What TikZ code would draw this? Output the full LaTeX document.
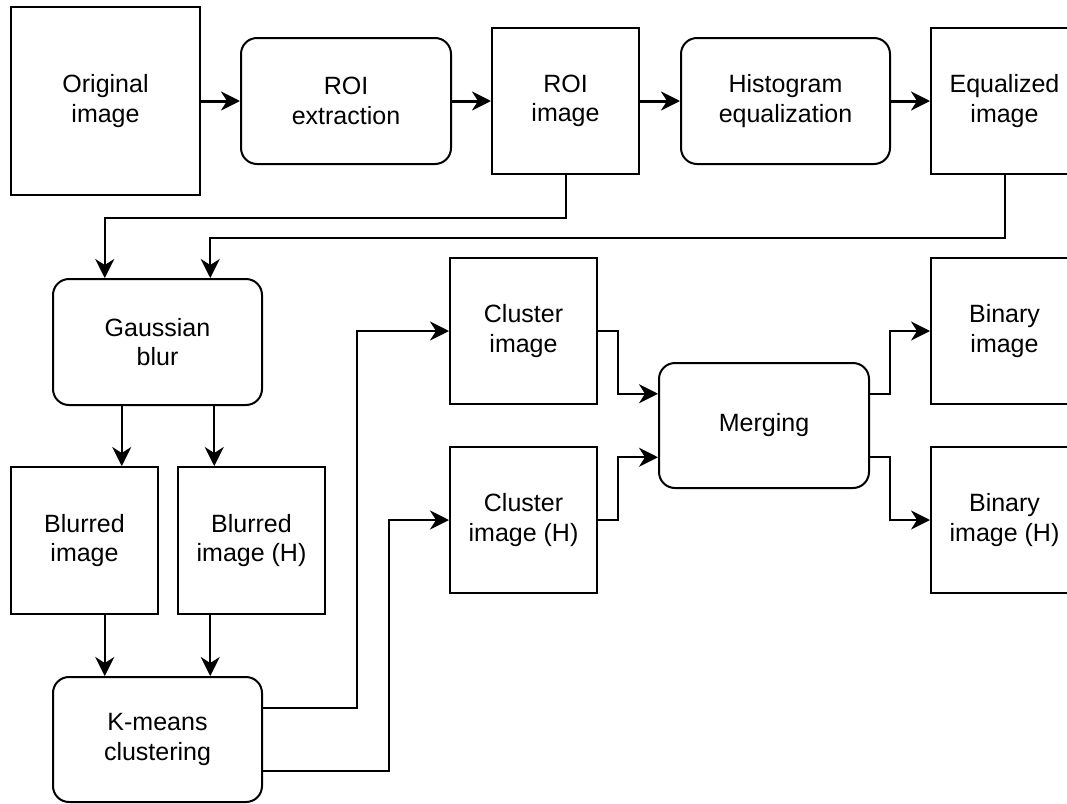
\documentclass[tikz,border=0pt]{standalone}
\usepackage{fontspec}
\setmainfont{Liberation Sans}
\usepackage{tikz}
\usetikzlibrary{arrows.meta,calc}

\tikzset{
  imgbox/.style={draw, line width=2pt, minimum width=147pt, minimum height=146pt,
    align=center, inner sep=0pt, font=\fontsize{25}{29.5}\selectfont},
  procbox/.style={imgbox, rounded corners=16pt, minimum width=209pt, minimum height=126pt},
  arr/.style={-{Stealth[length=19pt,width=19pt,inset=6pt]}, line width=2pt},
  thickarr/.style={arr, line width=3pt}
}

\begin{document}
\begin{tikzpicture}[x=1pt,y=-1pt]
  \useasboundingbox (0,0) rectangle (1067,803);
  % top row
  \node at (105.5,101) [imgbox, minimum width=189pt, minimum height=188pt] (orig) {Original\\image};
  \node at (346,101) [procbox, minimum width=210pt] (roiext) {ROI\\extraction};
  \node at (565.5,101) [imgbox] (roiimg) {ROI\\image};
  \node at (785.5,101) [procbox] (histeq) {Histogram\\equalization};
  \node at (1004.5,101) [imgbox] (eqimg) {Equalized\\image};
  % left column
  \node at (157.5,342) [procbox] (gauss) {Gaussian\\blur};
  \node at (84.5,540.5) [imgbox, minimum height=147pt] (blur) {Blurred\\image};
  \node at (251.5,540.5) [imgbox, minimum height=147pt] (blurh) {Blurred\\image (H)};
  \node at (157.5,739.5) [procbox, minimum height=125pt] (kmeans) {K-means\\clustering};
  % right part
  \node at (523.5,331) [imgbox] (clus) {Cluster\\image};
  \node at (523.5,520) [imgbox] (clush) {Cluster\\image (H)};
  \node at (764,425.5) [procbox, minimum width=210pt, minimum height=125pt] (merge) {Merging};
  \node at (1004.5,331) [imgbox] (bin) {Binary\\image};
  \node at (1004.5,520) [imgbox] (binh) {Binary\\image (H)};

  \draw[thickarr] (orig.east) -- (roiext.west);
  \draw[thickarr] (roiext.east) -- (roiimg.west);
  \draw[thickarr] (roiimg.east) -- (histeq.west);
  \draw[thickarr] (histeq.east) -- (eqimg.west);

  \coordinate (g1) at ($(gauss.north west)!0.25!(gauss.north east)$);
  \coordinate (g2) at ($(gauss.north west)!0.75!(gauss.north east)$);
  \draw[arr] (roiimg.south) -- ++(0,43) -| (g1);
  \draw[arr] (eqimg.south) -- ++(0,63) -| (g2);

  \coordinate (b1) at ($(blur.north west)!0.75!(blur.north east)$);
  \coordinate (b2) at ($(blurh.north west)!0.25!(blurh.north east)$);
  \draw[arr] (gauss.south -| b1) -- (b1);
  \draw[arr] (gauss.south -| b2) -- (b2);

  \coordinate (k1) at ($(kmeans.north west)!0.25!(kmeans.north east)$);
  \coordinate (k2) at ($(kmeans.north west)!0.75!(kmeans.north east)$);
  \draw[arr] (blur.south -| k1) -- (k1);
  \draw[arr] (blurh.south -| k2) -- (k2);

  \draw[arr] ($(kmeans.north east)!0.25!(kmeans.south east)$) -- ++(94,0) |- (clus.west);
  \draw[arr] ($(kmeans.north east)!0.75!(kmeans.south east)$) -- ++(126,0) |- (clush.west);

  \draw[arr] (clus.east) -- ++(20,0) |- ($(merge.north west)!0.25!(merge.south west)$);
  \draw[arr] (clush.east) -- ++(20,0) |- ($(merge.north west)!0.75!(merge.south west)$);

  \draw[arr] ($(merge.north east)!0.25!(merge.south east)$) -- ++(20,0) |- (bin.west);
  \draw[arr] ($(merge.north east)!0.75!(merge.south east)$) -- ++(20,0) |- (binh.west);
\end{tikzpicture}
\end{document}
